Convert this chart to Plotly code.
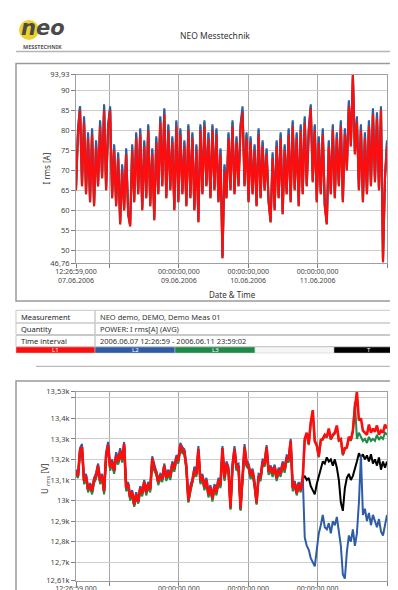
import plotly.graph_objects as go
import pandas as pd

W, H = 398, 590

T0 = "2006-06-07 12:26:59"
T1 = "2006-06-11 23:59:02"

# x ticks (shared by both charts)
tick_times = ["2006-06-07 12:26:59", "2006-06-08 00:00:00", "2006-06-09 00:00:00",
              "2006-06-10 00:00:00", "2006-06-11 00:00:00", "2006-06-11 23:59:02"]
tick_text = ["12:26:59,000<br>07.06.2006", " ", "00:00:00,000<br>09.06.2006",
             "00:00:00,000<br>10.06.2006", "00:00:00,000<br>11.06.2006",
             "23:59:02,000<br>11.06.2006"]

# chart 1: I rms [A]
i_ticks = [46.76, 50, 55, 60, 65, 70, 75, 80, 85, 90, 93.93]
i_ticktext = ["46,76", "50", "55", "60", "65", "70", "75", "80", "85", "90", "93,93"]

i_l1 = [65, 79, 85, 66, 82, 64, 78, 62, 79, 61,
        76, 66, 81, 68, 85, 65, 80, 85, 63, 75,
        61, 73, 56.5, 70, 60, 74, 59, 56, 75, 62,
        78, 64, 79, 60, 76, 63, 80, 61, 74, 57.5,
        77, 64, 82, 66, 84, 63, 80, 65, 77, 60,
        81, 62, 79, 64, 76, 61, 80, 63, 78, 60,
        75, 57, 80, 64, 81, 66, 78, 63, 80, 65,
        79, 62, 74, 48, 70, 63, 78, 65, 81, 64,
        77, 66, 80, 84.5, 66, 78, 62, 77, 64, 75,
        61, 79, 63, 76, 65, 74, 62, 57, 73, 60,
        76, 63, 78, 59, 75, 64, 79, 62, 81, 65,
        78, 61, 80, 64, 82, 66, 79, 85.5, 67, 80,
        62, 77, 64, 79, 61, 56.5, 76, 64, 80, 63,
        78, 66, 81, 62, 79, 70, 86, 76, 93.9, 74,
        82, 65, 80, 62, 78, 64, 81, 66, 84, 67,
        83, 65, 85, 47, 68, 76]

i_l2 = [65.5, 80.5, 86, 66.5, 83.5, 64.5, 79.5, 62.5, 80.5, 61.5,
        77.5, 66.5, 82.5, 68.5, 86.5, 65.5, 81.5, 86, 63.5, 76.5,
        61.5, 74.5, 57, 71.5, 60.5, 75.5, 59.5, 56.5, 76.5, 62.5,
        79.5, 64.5, 80.5, 60.5, 77.5, 63.5, 81.5, 61.5, 75.5, 58,
        78.5, 64.5, 83.5, 66.5, 85.5, 63.5, 81.5, 65.5, 78.5, 60.5,
        82.5, 62.5, 80.5, 64.5, 77.5, 61.5, 81.5, 63.5, 79.5, 60.5,
        76.5, 57.5, 81.5, 64.5, 82.5, 66.5, 79.5, 63.5, 81.5, 65.5,
        80.5, 62.5, 75.5, 48.5, 71.5, 63.5, 79.5, 65.5, 82.5, 64.5,
        78.5, 66.5, 81.5, 86, 66.5, 79.5, 62.5, 78.5, 64.5, 76.5,
        61.5, 80.5, 63.5, 77.5, 65.5, 75.5, 62.5, 57.5, 74.5, 60.5,
        77.5, 63.5, 79.5, 59.5, 76.5, 64.5, 80.5, 62.5, 82.5, 65.5,
        79.5, 61.5, 81.5, 64.5, 83.5, 66.5, 80.5, 86.5, 67.5, 81.5,
        62.5, 78.5, 64.5, 80.5, 61.5, 57, 77.5, 64.5, 81.5, 63.5,
        79.5, 66.5, 82.5, 62.5, 80.5, 70.5, 87.5, 76.5, 94, 74.5,
        83.5, 65.5, 81.5, 62.5, 79.5, 64.5, 82.5, 66.5, 85.5, 67.5,
        84.5, 65.5, 86, 47.5, 68.5, 77.5]

i_l3 = [65, 80, 86, 66, 83, 64, 79, 62, 80, 61,
        77, 66, 82, 68, 86, 65, 81, 85.5, 63, 76,
        61, 74, 56.5, 71, 60, 75, 59, 56, 76, 62,
        79, 64, 80, 60, 77, 63, 81, 61, 75, 57.5,
        78, 64, 83, 66, 85, 63, 81, 65, 78, 60,
        82, 62, 80, 64, 77, 61, 81, 63, 79, 60,
        76, 57, 81, 64, 82, 66, 79, 63, 81, 65,
        80, 62, 75, 48, 71, 63, 79, 65, 82, 64,
        78, 66, 81, 85, 66, 79, 62, 78, 64, 76,
        61, 80, 63, 77, 65, 75, 62, 57, 74, 60,
        77, 63, 79, 59, 76, 64, 80, 62, 82, 65,
        79, 61, 81, 64, 83, 66, 80, 86, 67, 81,
        62, 78, 64, 80, 61, 56.5, 77, 64, 81, 63,
        79, 66, 82, 62, 80, 70, 87, 76, 93.5, 74,
        83, 65, 81, 62, 79, 64, 82, 66, 85, 67,
        84, 65, 85.5, 47, 68, 77]

# chart 2: U rms [V]
u_ticks = [12610, 12700, 12800, 12900, 13000, 13100, 13200, 13300, 13400, 13500, 13530]
u_ticktext = ["12,61k", "12,7k", "12,8k", "12,9k", "13k", "13,1k", "13,2k",
              "13,3k", "13,4k", " ", "13,53k"]

u_l1 = [13140, 13120, 13245, 13260, 13095, 13120, 13055, 13075, 13045, 13100,
        13120, 13170, 13095, 13120, 13045, 13220, 13270, 13160, 13190, 13145,
        13220, 13190, 13240, 13200, 13275, 13060, 13080, 13015, 13040, 12980,
        13030, 12995, 13060, 13035, 13090, 13040, 13080, 13055, 13205, 13160,
        13140, 13090, 13120, 13105, 13170, 13110, 13140, 13115, 13180, 13155,
        13210, 13195, 13270, 13245, 13240, 13165, 13000, 13060, 13095, 13150,
        13130, 13250, 13095, 13120, 13065, 13100, 13030, 13065, 13010, 13070,
        13040, 13100, 13075, 13255, 13110, 13180, 13150, 12965, 13170, 13250,
        13160, 13170, 12960, 13140, 13260, 13180, 13170, 13120, 13145, 13080,
        12990, 13120, 13110, 13190, 13180, 13260, 13140, 13160, 13130, 13165,
        13110, 13150, 13130, 13180, 13150, 13210, 13200, 13290, 13060, 13085,
        13035, 13080, 13050, 13110, 13300, 13330, 13275, 13380, 13440, 13290,
        13270, 13215, 13295, 13300, 13320, 13310, 13350, 13300, 13320, 13330,
        13365, 13295, 13300, 13225, 13255, 13260, 13310, 13295, 13340, 13450,
        13530, 13390, 13400, 13340, 13330, 13320, 13370, 13330, 13350, 13335,
        13365, 13320, 13340, 13330, 13370, 13350]

u_l2 = [13150, 13135, 13255, 13275, 13110, 13130, 13065, 13085, 13060, 13110,
        13135, 13180, 13110, 13130, 13060, 13235, 13285, 13175, 13200, 13160,
        13235, 13205, 13255, 13215, 13285, 13075, 13090, 13030, 13050, 12995,
        13040, 13010, 13070, 13050, 13100, 13055, 13090, 13070, 13215, 13175,
        13150, 13105, 13130, 13120, 13180, 13125, 13150, 13130, 13190, 13170,
        13220, 13210, 13280, 13260, 13250, 13180, 13015, 13075, 13105, 13165,
        13140, 13265, 13110, 13130, 13080, 13110, 13045, 13075, 13025, 13080,
        13055, 13110, 13090, 13265, 13125, 13190, 13165, 12980, 13180, 13265,
        13175, 13180, 12975, 13150, 13275, 13195, 13180, 13135, 13155, 13095,
        13005, 13130, 13125, 13200, 13195, 13270, 13155, 13170, 13145, 13175,
        13125, 13160, 13145, 13190, 13165, 13220, 13215, 13300, 13075, 13095,
        13050, 13090, 13065, 13120, 12820, 12780, 12760, 12720, 12700, 12680,
        12760, 12840, 12880, 12930, 12870, 12860, 12890, 12840, 12900, 12880,
        12920, 12850, 12780, 12640, 12620, 12750, 12830, 12800, 12860, 12780,
        12840, 12990, 13220, 12930, 12960, 12900, 12940, 12880, 12930, 12900,
        12870, 12910, 12850, 12830, 12880, 12930]

u_l3 = [13125, 13110, 13230, 13245, 13080, 13105, 13040, 13065, 13030, 13085,
        13105, 13155, 13080, 13105, 13030, 13205, 13255, 13145, 13175, 13130,
        13205, 13175, 13225, 13185, 13260, 13045, 13065, 13000, 13025, 12970,
        13015, 12985, 13045, 13020, 13075, 13025, 13065, 13040, 13190, 13145,
        13125, 13075, 13105, 13090, 13155, 13095, 13125, 13100, 13165, 13140,
        13195, 13180, 13255, 13230, 13225, 13150, 12990, 13045, 13080, 13135,
        13115, 13235, 13080, 13105, 13050, 13085, 13015, 13050, 12995, 13055,
        13025, 13085, 13060, 13240, 13095, 13165, 13135, 12955, 13155, 13235,
        13145, 13155, 12950, 13125, 13245, 13165, 13155, 13105, 13130, 13065,
        12980, 13105, 13095, 13175, 13165, 13245, 13125, 13145, 13115, 13150,
        13095, 13135, 13115, 13165, 13135, 13195, 13185, 13275, 13045, 13070,
        13025, 13065, 13040, 13095, 13295, 13325, 13270, 13375, 13430, 13285,
        13265, 13210, 13290, 13295, 13315, 13305, 13345, 13295, 13315, 13325,
        13360, 13290, 13295, 13220, 13250, 13255, 13305, 13290, 13335, 13480,
        13300, 13330, 13310, 13290, 13300, 13280, 13310, 13290, 13300, 13290,
        13320, 13295, 13310, 13300, 13330, 13320]

u_t = [13130, 13115, 13235, 13250, 13090, 13110, 13050, 13070, 13040, 13095,
       13115, 13160, 13090, 13110, 13040, 13210, 13260, 13155, 13180, 13140,
       13210, 13180, 13230, 13190, 13265, 13055, 13070, 13010, 13030, 12975,
       13025, 12990, 13050, 13030, 13085, 13035, 13070, 13050, 13195, 13150,
       13130, 13085, 13110, 13100, 13160, 13105, 13130, 13110, 13170, 13150,
       13200, 13190, 13260, 13240, 13230, 13160, 12995, 13055, 13090, 13140,
       13125, 13240, 13090, 13110, 13060, 13095, 13025, 13060, 13005, 13065,
       13035, 13095, 13070, 13245, 13105, 13170, 13145, 12960, 13160, 13240,
       13155, 13160, 12955, 13135, 13250, 13170, 13160, 13115, 13140, 13075,
       12985, 13115, 13105, 13180, 13170, 13250, 13135, 13150, 13125, 13160,
       13105, 13140, 13125, 13170, 13145, 13200, 13195, 13280, 13065, 13090,
       13040, 13085, 13060, 13105, 13120, 13100, 13110, 13070, 13050, 13030,
       13080, 13120, 13150, 13190, 13180, 13210, 13190, 13200, 13170, 13200,
       13160, 13100, 12990, 12950, 13060, 13110, 13130, 13100, 13120, 13150,
       13190, 13230, 13210, 13225, 13200, 13220, 13190, 13225, 13180, 13200,
       13170, 13210, 13150, 13190, 13160, 13190]

colors = {"L1": "#ff0d0d", "L2": "#2f5ca6", "L3": "#1d8a48", "T": "#000000"}

table_rows = [("Measurement", "NEO demo, DEMO, Demo Meas 01"),
              ("Quantity", "POWER: I rms[A] (AVG)"),
              ("Time interval", "2006.06.07 12:26:59 - 2006.06.11 23:59:02")]
legend_cells = ["L1", "L2", "L3", "", "T"]
legend_fill = ["#ff0d0d", "#2f5ca6", "#1d8a48", "#f6f6f6", "#000000"]


def fx(x):
    return x / W


def fy(y):
    return 1 - y / H


FONT = "Noto Sans"

fig = go.Figure()

# chart 1 traces (red drawn last, on top)
for name, vals in [("L3", i_l3), ("L2", i_l2), ("L1", i_l1)]:
    fig.add_trace(go.Scatter(x=pd.date_range(T0, T1, periods=len(vals)), y=vals,
                             mode="lines", name=name, line=dict(color=colors[name], width=2.1),
                             xaxis="x", yaxis="y"))

# chart 2 traces
for name, vals in [("T", u_t), ("L3", u_l3), ("L2", u_l2), ("L1", u_l1)]:
    fig.add_trace(go.Scatter(x=pd.date_range(T0, T1, periods=len(vals)), y=vals,
                             mode="lines", name=name,
                             line=dict(color=colors[name], width=2.6 if name == "L1" else 2),
                             xaxis="x2", yaxis="y2"))

xax = dict(type="date", range=[T0, T1], tickvals=tick_times, ticktext=tick_text,
           showgrid=True, gridcolor="#a9a9a9", gridwidth=1, zeroline=False,
           showline=True, linecolor="#a0a0a0", mirror=True,
           ticks="outside", ticklen=4, tickcolor="#808080", ticklabelstandoff=-3,
           tickfont=dict(family=FONT, size=7, color="#444"), automargin=False)
yax = dict(showgrid=True, gridcolor="#cdcdcd", gridwidth=1, zeroline=False,
           showline=True, linecolor="#a0a0a0", mirror=True,
           ticks="outside", ticklen=4, tickcolor="#808080",
           tickfont=dict(family=FONT, size=7.5, color="#444"), automargin=False)

fig.update_layout(
    width=W, height=H, template="none",
    margin=dict(l=0, r=0, t=0, b=0, pad=0),
    paper_bgcolor="white", plot_bgcolor="white", showlegend=False,
    xaxis=dict(xax, domain=[fx(68), fx(379)], anchor="y"),
    yaxis=dict(yax, domain=[fy(255.3), fy(66.6)], range=[46.76, 93.93],
               tickvals=i_ticks, ticktext=i_ticktext, anchor="x"),
    xaxis2=dict(xax, domain=[fx(68), fx(379)], anchor="y2"),
    yaxis2=dict(yax, domain=[fy(572.7), fy(383.6)], range=[12610, 13530],
                tickvals=u_ticks, ticktext=u_ticktext, anchor="x2"),
)

shapes = []
ann = []

# header with logo
shapes.append(dict(type="circle", xref="paper", yref="paper", x0=fx(11), x1=fx(31),
                   y0=fy(32), y1=fy(12), fillcolor="#ead12c", line=dict(width=0)))
ann.append(dict(x=fx(11), y=fy(20), text="<b><i>neo</i></b>", xanchor="left", yanchor="middle",
                font=dict(family="DejaVu Sans", size=21, color="#4a4a4a")))
ann.append(dict(x=fx(34), y=fy(38.5), text="<b>MESSTECHNIK</b>", xanchor="center", yanchor="middle",
                font=dict(family=FONT, size=5.5, color="#555")))
ann.append(dict(x=fx(207), y=fy(27), text="NEO Messtechnik", xanchor="center", yanchor="middle",
                font=dict(family=FONT, size=8.5, color="#333")))
shapes.append(dict(type="line", xref="paper", yref="paper", x0=fx(8), x1=fx(398),
                   y0=fy(43.5), y1=fy(43.5), line=dict(color="#b5b5b5", width=1.5)))

# chart frames
shapes.append(dict(type="rect", xref="paper", yref="paper", x0=fx(8), x1=fx(404),
                   y0=fy(293), y1=fy(55.5), line=dict(color="#9a9a9a", width=1.5), layer="below"))
shapes.append(dict(type="rect", xref="paper", yref="paper", x0=fx(8), x1=fx(404),
                   y0=fy(600), y1=fy(373), line=dict(color="#9a9a9a", width=1.5), layer="below"))

# axis titles
ann.append(dict(x=fx(38), y=fy(160.5), text="I rms [A]", textangle=-90,
                xanchor="center", yanchor="middle", font=dict(family=FONT, size=8, color="#333")))
ann.append(dict(x=fx(224), y=fy(286.5), text="Date &amp; Time", xanchor="center", yanchor="middle",
                font=dict(family=FONT, size=8, color="#333")))
ann.append(dict(x=fx(37), y=fy(471), text="U <sub>rms</sub> [V]", textangle=-90,
                xanchor="center", yanchor="middle", font=dict(family=FONT, size=8, color="#333")))

# info table
row_bounds = [(302.3, 315), (315, 326.5), (327.5, 338.5)]
for (label, value), (top, bot) in zip(table_rows, row_bounds):
    shapes.append(dict(type="rect", xref="paper", yref="paper", x0=fx(8), x1=fx(87),
                       y0=fy(bot), y1=fy(top), line=dict(color="#c9c9c9", width=1)))
    shapes.append(dict(type="rect", xref="paper", yref="paper", x0=fx(87), x1=fx(395),
                       y0=fy(bot), y1=fy(top), line=dict(color="#c9c9c9", width=1)))
    ann.append(dict(x=fx(11), y=fy((top + bot) / 2), text=label, xanchor="left", yanchor="middle",
                    font=dict(family=FONT, size=7.5, color="#1e1e1e")))
    ann.append(dict(x=fx(90), y=fy((top + bot) / 2), text=value, xanchor="left", yanchor="middle",
                    font=dict(family=FONT, size=7.5, color="#333")))

cell_x = [8, 87, 167, 247, 326, 395]
for k, (txt, col) in enumerate(zip(legend_cells, legend_fill)):
    shapes.append(dict(type="rect", xref="paper", yref="paper", x0=fx(cell_x[k]), x1=fx(cell_x[k + 1]),
                       y0=fy(345), y1=fy(339), fillcolor=col, line=dict(color="#c9c9c9", width=0.5)))
    if txt:
        ann.append(dict(x=fx((cell_x[k] + cell_x[k + 1]) / 2), y=fy(342), text=txt,
                        xanchor="center", yanchor="middle", font=dict(family=FONT, size=6, color="white")))

shapes.append(dict(type="line", xref="paper", yref="paper", x0=fx(28), x1=fx(387),
                   y0=fy(358.3), y1=fy(358.3), line=dict(color="#a8a8a8", width=1)))

for a in ann:
    a.update(xref="paper", yref="paper", showarrow=False)

fig.update_layout(shapes=shapes, annotations=ann)

fig.write_html("out.html")
